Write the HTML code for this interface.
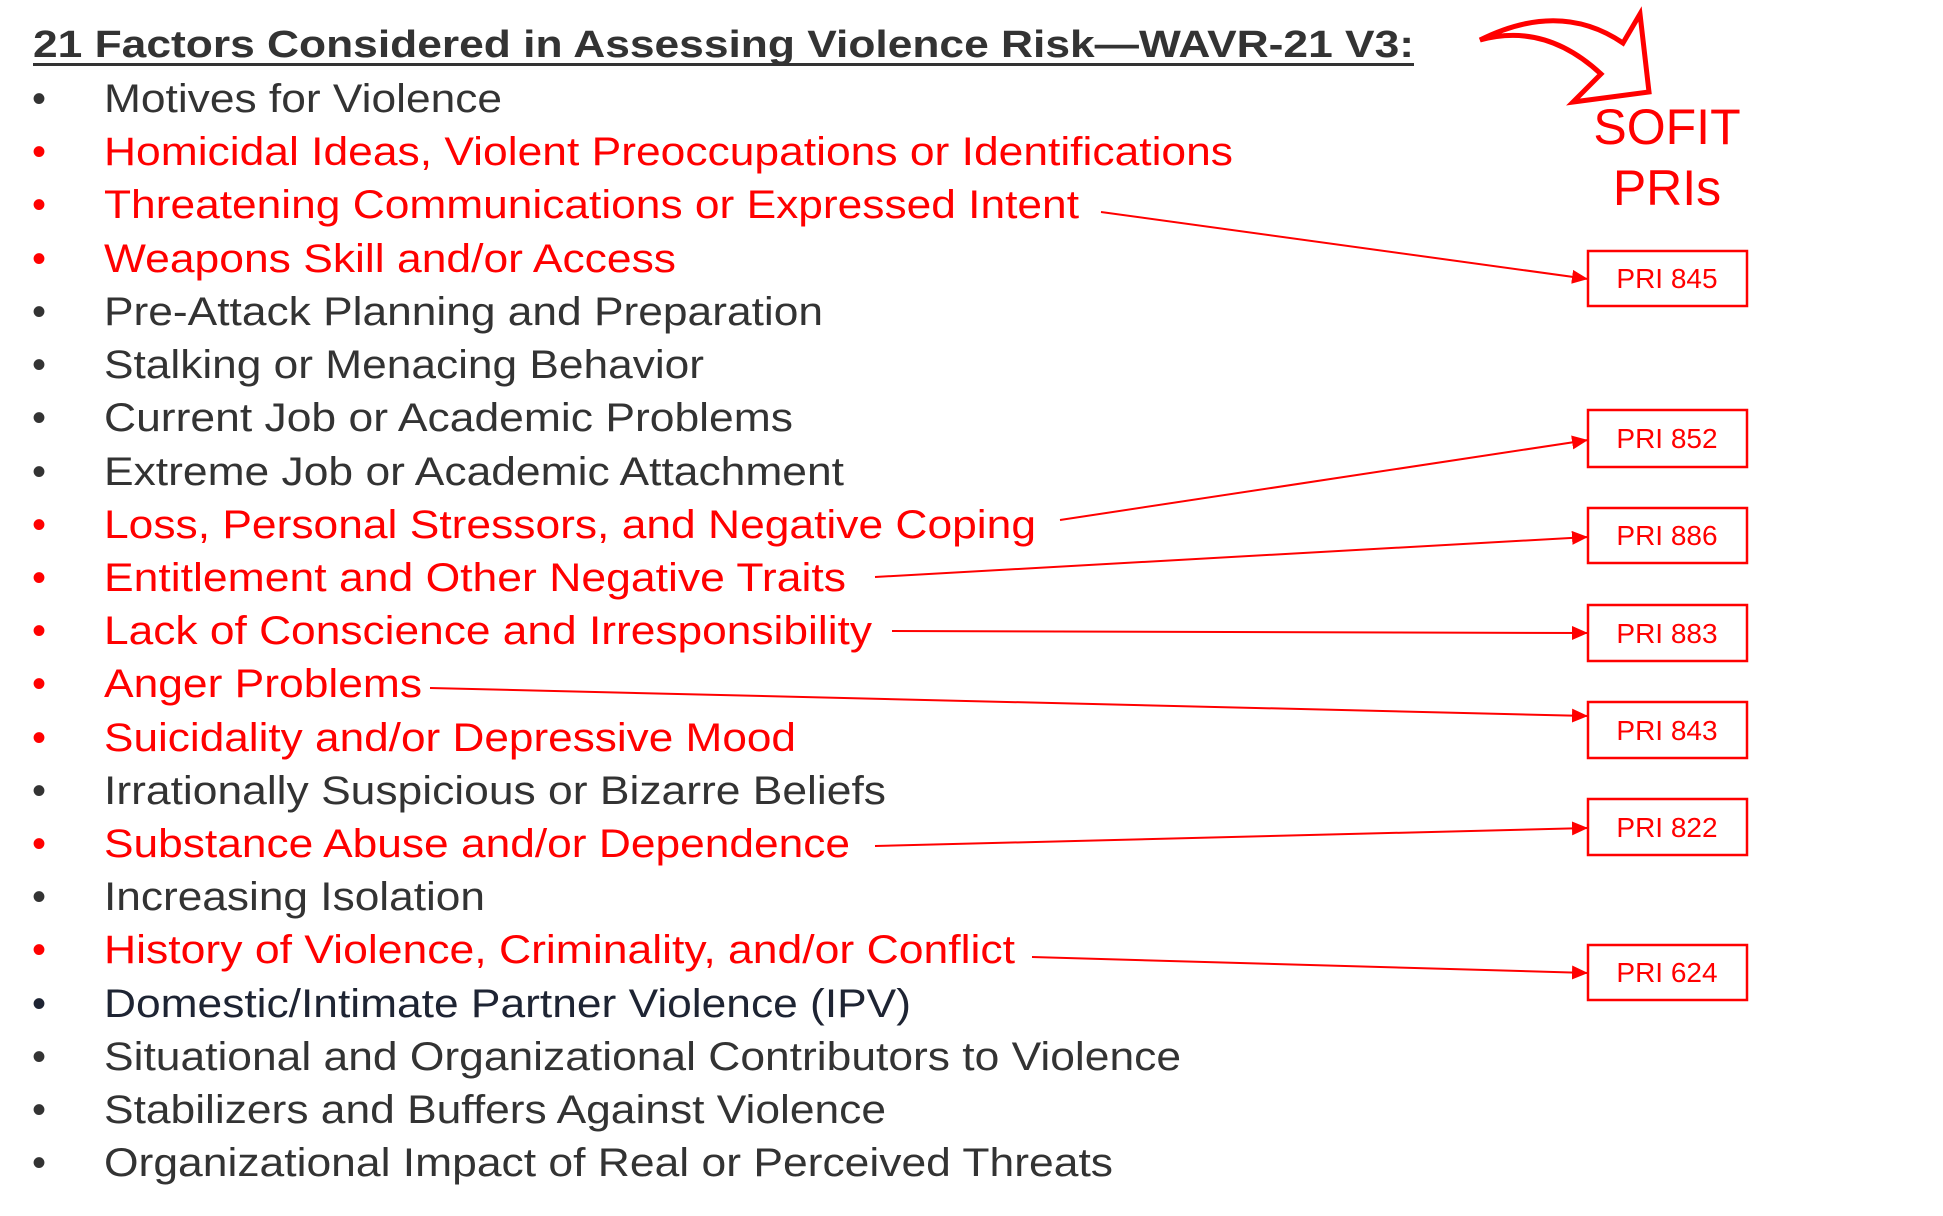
<!DOCTYPE html>
<html><head><meta charset="utf-8"><style>
html,body{margin:0;padding:0;background:#fff;width:1943px;height:1216px;overflow:hidden}
svg{display:block}
text{font-family:"Liberation Sans",Arial,sans-serif}
</style></head><body>
<svg width="1943" height="1216" viewBox="0 0 1943 1216" xmlns="http://www.w3.org/2000/svg">
<defs><marker id="a" markerWidth="18" markerHeight="16" refX="16" refY="7" orient="auto" markerUnits="userSpaceOnUse"><path d="M0,0 L16,7 L0,14 Z" fill="#f00"/></marker></defs>
<text x="33" y="57" font-size="38" font-weight="bold" fill="#333" textLength="1381" lengthAdjust="spacingAndGlyphs">21 Factors Considered in Assessing Violence Risk—WAVR-21 V3:</text>
<rect x="33" y="63" width="1381" height="3" fill="#333"/>
<g font-size="40">
<g fill="#333"><text x="32" y="112">•</text><text x="104" y="112" textLength="398" lengthAdjust="spacingAndGlyphs">Motives for Violence</text></g>
<g fill="#f00"><text x="32" y="165">•</text><text x="104" y="165" textLength="1129" lengthAdjust="spacingAndGlyphs">Homicidal Ideas, Violent Preoccupations or Identifications</text></g>
<g fill="#f00"><text x="32" y="218">•</text><text x="104" y="218" textLength="975" lengthAdjust="spacingAndGlyphs">Threatening Communications or Expressed Intent</text></g>
<g fill="#f00"><text x="32" y="272">•</text><text x="104" y="272" textLength="572" lengthAdjust="spacingAndGlyphs">Weapons Skill and/or Access</text></g>
<g fill="#333"><text x="32" y="325">•</text><text x="104" y="325" textLength="719" lengthAdjust="spacingAndGlyphs">Pre-Attack Planning and Preparation</text></g>
<g fill="#333"><text x="32" y="378">•</text><text x="104" y="378" textLength="600" lengthAdjust="spacingAndGlyphs">Stalking or Menacing Behavior</text></g>
<g fill="#333"><text x="32" y="431">•</text><text x="104" y="431" textLength="689" lengthAdjust="spacingAndGlyphs">Current Job or Academic Problems</text></g>
<g fill="#333"><text x="32" y="485">•</text><text x="104" y="485" textLength="740" lengthAdjust="spacingAndGlyphs">Extreme Job or Academic Attachment</text></g>
<g fill="#f00"><text x="32" y="538">•</text><text x="104" y="538" textLength="932" lengthAdjust="spacingAndGlyphs">Loss, Personal Stressors, and Negative Coping</text></g>
<g fill="#f00"><text x="32" y="591">•</text><text x="104" y="591" textLength="742" lengthAdjust="spacingAndGlyphs">Entitlement and Other Negative Traits</text></g>
<g fill="#f00"><text x="32" y="644">•</text><text x="104" y="644" textLength="768" lengthAdjust="spacingAndGlyphs">Lack of Conscience and Irresponsibility</text></g>
<g fill="#f00"><text x="32" y="697">•</text><text x="104" y="697" textLength="318" lengthAdjust="spacingAndGlyphs">Anger Problems</text></g>
<g fill="#f00"><text x="32" y="751">•</text><text x="104" y="751" textLength="692" lengthAdjust="spacingAndGlyphs">Suicidality and/or Depressive Mood</text></g>
<g fill="#333"><text x="32" y="804">•</text><text x="104" y="804" textLength="782" lengthAdjust="spacingAndGlyphs">Irrationally Suspicious or Bizarre Beliefs</text></g>
<g fill="#f00"><text x="32" y="857">•</text><text x="104" y="857" textLength="746" lengthAdjust="spacingAndGlyphs">Substance Abuse and/or Dependence</text></g>
<g fill="#333"><text x="32" y="910">•</text><text x="104" y="910" textLength="381" lengthAdjust="spacingAndGlyphs">Increasing Isolation</text></g>
<g fill="#f00"><text x="32" y="963">•</text><text x="104" y="963" textLength="911" lengthAdjust="spacingAndGlyphs">History of Violence, Criminality, and/or Conflict</text></g>
<g fill="#1e2433"><text x="32" y="1017">•</text><text x="104" y="1017" textLength="807" lengthAdjust="spacingAndGlyphs">Domestic/Intimate Partner Violence (IPV)</text></g>
<g fill="#333"><text x="32" y="1070">•</text><text x="104" y="1070" textLength="1077" lengthAdjust="spacingAndGlyphs">Situational and Organizational Contributors to Violence</text></g>
<g fill="#333"><text x="32" y="1123">•</text><text x="104" y="1123" textLength="782" lengthAdjust="spacingAndGlyphs">Stabilizers and Buffers Against Violence</text></g>
<g fill="#333"><text x="32" y="1176">•</text><text x="104" y="1176" textLength="1009" lengthAdjust="spacingAndGlyphs">Organizational Impact of Real or Perceived Threats</text></g>
</g>
<path d="M1480,40 Q1560,0 1623,43 L1640,14 L1649,92 L1573,102 L1601,74 Q1545,22 1480,40 Z" fill="#fff" stroke="#f00" stroke-width="5" stroke-linejoin="miter"/>
<g fill="#f00" font-size="50" text-anchor="middle"><text x="1667" y="144">SOFIT</text><text x="1667" y="205">PRIs</text></g>
<g fill="none" stroke="#f00" stroke-width="2.5">
<rect x="1588" y="251" width="159" height="55"/>
<rect x="1588" y="410" width="159" height="57"/>
<rect x="1588" y="508" width="159" height="55"/>
<rect x="1588" y="605" width="159" height="56"/>
<rect x="1588" y="702" width="159" height="56"/>
<rect x="1588" y="799" width="159" height="56"/>
<rect x="1588" y="945" width="159" height="55"/>
</g>
<g fill="#f00" font-size="28" text-anchor="middle">
<text x="1667" y="288">PRI 845</text><text x="1667" y="448">PRI 852</text><text x="1667" y="545">PRI 886</text><text x="1667" y="643">PRI 883</text><text x="1667" y="740">PRI 843</text><text x="1667" y="837">PRI 822</text><text x="1667" y="982">PRI 624</text>
</g>
<g stroke="#f00" stroke-width="2" marker-end="url(#a)">
<line x1="1101" y1="212" x2="1588" y2="279"/>
<line x1="1060" y1="520" x2="1588" y2="440"/>
<line x1="875" y1="577" x2="1588" y2="537"/>
<line x1="892" y1="631" x2="1588" y2="633"/>
<line x1="430" y1="688" x2="1588" y2="716"/>
<line x1="875" y1="846" x2="1588" y2="828"/>
<line x1="1032" y1="957" x2="1588" y2="973"/>
</g>
</svg>
</body></html>
